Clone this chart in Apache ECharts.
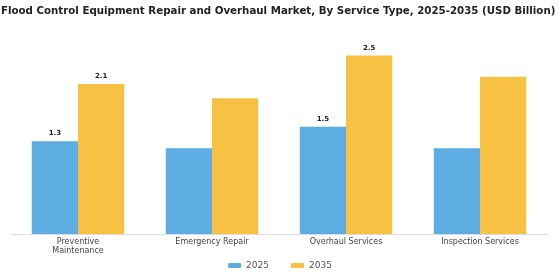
<!DOCTYPE html>
<html>
<head>
<meta charset="utf-8">
<script src="https://cdn.jsdelivr.net/npm/echarts@6/dist/echarts.min.js"></script>
<style>
  html, body { margin: 0; padding: 0; background: #fff; }
  #chart { width: 560px; height: 280px; }
</style>
</head>
<body>
<div id="chart"></div>
<script>
const categories = ['Preventive\nMaintenance', 'Emergency Repair', 'Overhaul Services', 'Inspection Services']
const seriesNames = ['2025', '2035']
const values2025 = [1.3, 1.2, 1.5, 1.2]
const values2035 = [2.1, 1.9, 2.5, 2.2]
// only these categories carry value labels in the original
const labeledIdx = [0, 2]

const colors = ['#5DADE2', '#F7C144']

function withLabels(arr) {
    return arr.map((v, i) => ({
        value: v,
        label: { show: labeledIdx.indexOf(i) !== -1 },
    }))
}

const barLabel = {
    position: 'top',
    fontFamily: 'DejaVu Sans',
    fontSize: 7,
    fontWeight: 'bold',
    color: '#222',
    distance: 4,
}

const chart = echarts.init(document.getElementById('chart'), null, { renderer: 'canvas' })
chart.setOption({
    animation: false,
    backgroundColor: '#fff',
    title: {
        text: 'Flood Control Equipment Repair and Overhaul Market, By Service Type, 2025-2035 (USD Billion)',
        left: 1,
        top: 6,
        padding: 0,
        textStyle: {
            fontFamily: 'DejaVu Sans',
            fontSize: 10.25,
            fontWeight: 'bold',
            color: '#222',
        },
    },
    legend: {
        data: seriesNames,
        bottom: 5,
        left: 'center',
        itemWidth: 13,
        itemHeight: 5,
        itemGap: 22,
        icon: 'roundRect',
        textStyle: { fontFamily: 'DejaVu Sans', fontSize: 9, color: '#555' },
    },
    grid: {
        left: 11,
        right: 13,
        top: 34,
        bottom: 46,
    },
    xAxis: {
        type: 'category',
        data: categories,
        axisLine: { lineStyle: { color: '#ddd' } },
        axisTick: { alignWithLabel: true, length: 4, lineStyle: { color: '#666' } },
        axisLabel: {
            fontFamily: 'DejaVu Sans',
            fontSize: 8,
            color: '#444',
            lineHeight: 8.5,
            margin: 4,
        },
    },
    yAxis: {
        type: 'value',
        min: 0,
        max: 2.8,
        show: false,
        splitLine: { show: false },
    },
    series: [
        {
            name: seriesNames[0],
            type: 'bar',
            data: withLabels(values2025),
            itemStyle: { color: colors[0] },
            barGap: '0%',
            barCategoryGap: '31%',
            label: barLabel,
        },
        {
            name: seriesNames[1],
            type: 'bar',
            data: withLabels(values2035),
            itemStyle: { color: colors[1] },
            barGap: '0%',
            barCategoryGap: '31%',
            label: barLabel,
        },
    ],
})
</script>
</body>
</html>
